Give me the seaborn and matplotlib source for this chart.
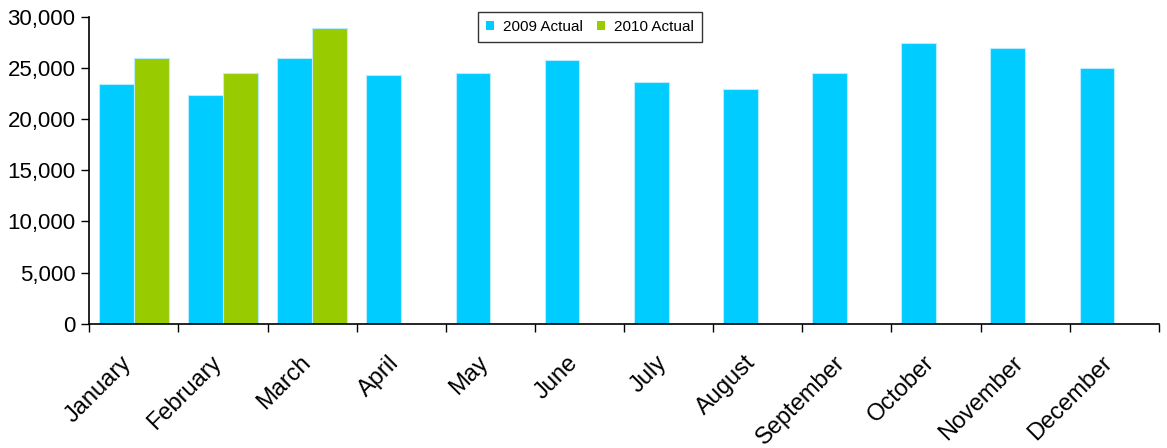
import matplotlib
matplotlib.use("Agg")
import matplotlib.pyplot as plt
from matplotlib.patches import Patch
from matplotlib.ticker import FuncFormatter, FixedLocator
from matplotlib.transforms import ScaledTranslation
import numpy as np
import pandas as pd
import seaborn as sns

months = ["January", "February", "March", "April", "May", "June",
          "July", "August", "September", "October", "November", "December"]
actual_2009 = [23400, 22300, 26000, 24250, 24500, 25800,
               23600, 22950, 24500, 27400, 26950, 24950]
actual_2010 = [26000, 24500, 28900, np.nan, np.nan, np.nan,
               np.nan, np.nan, np.nan, np.nan, np.nan, np.nan]
series_names = ["2009 Actual", "2010 Actual"]
colors = ["#00CCFF", "#99CC00"]

df = pd.DataFrame({
    "month": months * 2,
    "value": actual_2009 + actual_2010,
    "series": [series_names[0]] * 12 + [series_names[1]] * 12,
})

sns.set_style("white")
plt.rcParams["font.family"] = ["Liberation Sans", "DejaVu Sans"]
plt.rcParams["text.color"] = "black"
plt.rcParams["xtick.color"] = "black"
plt.rcParams["ytick.color"] = "black"

fig, ax = plt.subplots(figsize=(11.67, 4.48), dpi=100)
fig.subplots_adjust(left=0.0765, right=0.993, bottom=0.277, top=0.963)

sns.barplot(data=df, x="month", y="value", hue="series", order=months,
            hue_order=series_names, palette=colors, saturation=1, width=0.78,
            edgecolor="#b8ecff", linewidth=0.8, ax=ax, legend=False)

ax.set_xlim(-0.5, 11.5)
ax.set_ylim(0, 30000)
ax.set_yticks(range(0, 30001, 5000))
ax.yaxis.set_major_formatter(FuncFormatter(lambda v, p: f"{int(v):,}"))
ax.set_xlabel("")
ax.set_ylabel("")

for s in ["top", "right"]:
    ax.spines[s].set_visible(False)
for s in ["left", "bottom"]:
    ax.spines[s].set_color("black")
    ax.spines[s].set_linewidth(1.2)

# tick marks sit between the month groups, labels at group centres
ax.xaxis.set_minor_locator(FixedLocator(np.arange(-0.5, 12, 1)))
ax.tick_params(axis="x", which="major", bottom=True, length=0, pad=20, labelsize=17)
ax.tick_params(axis="x", which="minor", bottom=True, length=6, width=1, direction="out")
ax.tick_params(axis="y", left=True, length=6, width=1, direction="out", labelsize=16, pad=4)
shift = ScaledTranslation(-13 / 100, 0, fig.dpi_scale_trans)
for lab in ax.get_xticklabels():
    lab.set_rotation(45)
    lab.set_ha("right")
    lab.set_rotation_mode("anchor")
    lab.set_transform(lab.get_transform() + shift)

handles = [Patch(facecolor=c, edgecolor="none") for c in colors]
leg = fig.legend(handles, series_names, loc="center", bbox_to_anchor=(0.5055, 0.94),
                 ncol=2, fontsize=11, frameon=True, fancybox=False,
                 handlelength=0.55, handleheight=0.55, handletextpad=0.6,
                 columnspacing=0.9, borderpad=0.5)
leg.get_frame().set_edgecolor("black")
leg.get_frame().set_linewidth(1)

fig.savefig("out.png", dpi=100)
